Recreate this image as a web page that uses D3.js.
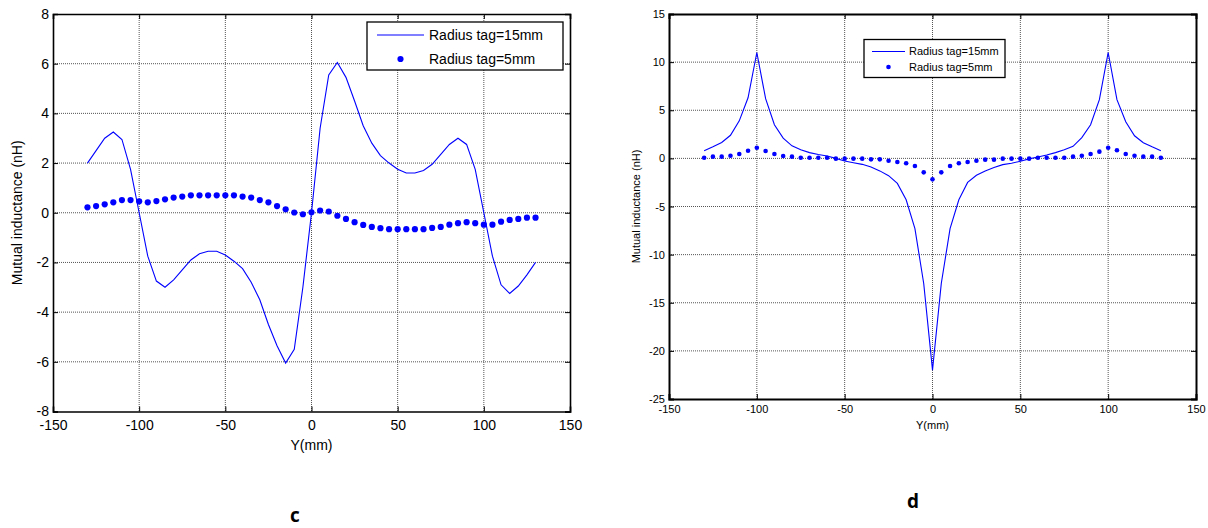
<!DOCTYPE html>
<html><head><meta charset="utf-8">
<script src="https://cdn.jsdelivr.net/npm/d3@7"></script>
<style>
html,body{margin:0;padding:0;background:#fff;}
svg text{font-family:Arial,"Liberation Sans",sans-serif;}
</style></head>
<body>
<svg id="chart" width="1208" height="528"></svg>
<script>
// ---------------- DATA ----------------
// Chart c: x positions (mm)
const xC = d3.range(-130, 131, 5);
// Radius tag = 15mm (chart c)
const c15 = [2.0,2.5,3.0,3.25,2.95,1.75,0.0,-1.75,-2.75,-3.0,-2.7,-2.3,-1.9,-1.65,-1.55,-1.55,-1.7,-1.95,-2.25,-2.8,-3.5,-4.5,-5.35,-6.05,-5.5,-3.0,
             0.0,3.4,5.55,6.05,5.45,4.5,3.5,2.8,2.3,2.0,1.75,1.6,1.6,1.7,1.95,2.35,2.75,3.0,2.75,1.75,0.0,-1.75,-2.9,-3.25,-2.95,-2.5,-2.0];
// Radius tag = 5mm (chart c)
const c5 = [0.22,0.27,0.34,0.42,0.51,0.51,0.46,0.42,0.47,0.54,0.61,0.65,0.70,0.70,0.70,0.70,0.70,0.70,0.65,0.61,0.51,0.42,0.27,0.14,0.01,-0.06,
            0.02,0.09,0.05,-0.12,-0.25,-0.38,-0.49,-0.57,-0.62,-0.66,-0.66,-0.66,-0.66,-0.66,-0.61,-0.57,-0.48,-0.42,-0.38,-0.42,-0.48,-0.48,-0.36,-0.29,-0.25,-0.20,-0.20];
// Chart d
const xD = d3.range(-130, 131, 5);
const d15 = [0.8,1.2,1.65,2.4,3.9,6.3,11.0,6.2,3.5,2.1,1.3,0.9,0.6,0.4,0.25,0.0,-0.27,-0.45,-0.62,-0.9,-1.3,-1.8,-2.6,-4.3,-7.3,-13.0,
             -22.0,-13.0,-7.3,-4.3,-2.5,-1.75,-1.3,-0.95,-0.65,-0.5,-0.3,-0.05,0.15,0.35,0.6,0.9,1.25,2.15,3.5,6.1,11.0,6.1,3.8,2.35,1.63,1.2,0.8];
const d5 = [0.07,0.18,0.18,0.28,0.46,0.8,1.11,0.77,0.46,0.25,0.18,0.07,0.07,0.07,0.07,-0.03,-0.03,-0.03,-0.03,-0.1,-0.1,-0.24,-0.37,-0.51,-0.79,-1.45,
            -2.18,-1.45,-0.79,-0.51,-0.37,-0.24,-0.13,-0.13,-0.03,-0.03,-0.03,-0.03,0.07,0.07,0.07,0.07,0.18,0.28,0.46,0.7,1.11,0.84,0.46,0.28,0.18,0.18,0.07];
const xTicks = [-150,-100,-50,0,50,100,150];
const yTicksC = [-8,-6,-4,-2,0,2,4,6,8];
const yTicksD = [-25,-20,-15,-10,-5,0,5,10,15];
const legendLabels = ["Radius tag=15mm","Radius tag=5mm"];
const xLabel = "Y(mm)";
const yLabel = "Mutual inductance (nH)";
const panelLabels = ["c","d"];

// ---------------- DRAW ----------------
const svg = d3.select("#chart");
const blue = "#0000ff";
const fmt = d => String(d);

function drawPanel(cfg){
  const g = svg.append("g");
  const x = d3.scaleLinear().domain([-150,150]).range([cfg.left, cfg.right]);
  const y = d3.scaleLinear().domain(cfg.yDomain).range([cfg.bottom, cfg.top]);
  // grid
  g.selectAll(".vg").data(xTicks.slice(1,-1)).enter().append("line")
    .attr("x1",d=>x(d)).attr("x2",d=>x(d)).attr("y1",cfg.top).attr("y2",cfg.bottom)
    .attr("stroke","#555").attr("stroke-width",1).attr("stroke-dasharray","1,1");
  g.selectAll(".hg").data(cfg.yTicks.slice(1,-1)).enter().append("line")
    .attr("y1",d=>y(d)).attr("y2",d=>y(d)).attr("x1",cfg.left).attr("x2",cfg.right)
    .attr("stroke","#555").attr("stroke-width",1).attr("stroke-dasharray","1,1");
  // axes (inward ticks)
  const tl = 5;
  const axB = d3.axisBottom(x).tickValues(xTicks).tickSize(-tl).tickPadding(tl+cfg.xPad).tickFormat(fmt);
  const axT = d3.axisTop(x).tickValues(xTicks).tickSize(-tl).tickFormat("");
  const axL = d3.axisLeft(y).tickValues(cfg.yTicks).tickSize(-tl).tickPadding(tl+cfg.yPad).tickFormat(fmt);
  const axR = d3.axisRight(y).tickValues(cfg.yTicks).tickSize(-tl).tickFormat("");
  const gb = g.append("g").attr("transform",`translate(0,${cfg.bottom})`).call(axB);
  const gt = g.append("g").attr("transform",`translate(0,${cfg.top})`).call(axT);
  const gl = g.append("g").attr("transform",`translate(${cfg.left},0)`).call(axL);
  const gr = g.append("g").attr("transform",`translate(${cfg.right},0)`).call(axR);
  [gb,gt,gl,gr].forEach(a=>{
    a.select(".domain").attr("stroke","#000").attr("stroke-width",cfg.sw);
    a.selectAll(".tick line").attr("stroke","#000").attr("stroke-width",1);
    a.selectAll("text").attr("font-size",cfg.fs).attr("fill","#000")
     .attr("font-family","Arial, 'Liberation Sans', sans-serif");
  });
  // line series
  const line = d3.line().x((d,i)=>x(cfg.xs[i])).y(d=>y(d));
  g.append("path").datum(cfg.s15).attr("d",line).attr("fill","none")
    .attr("stroke",blue).attr("stroke-width",1.1);
  g.selectAll(".dot").data(cfg.s5).enter().append("circle")
    .attr("cx",(d,i)=>x(cfg.xs5[i])).attr("cy",d=>y(d)).attr("r",cfg.r).attr("fill",blue);
  // labels
  g.append("text").attr("x",(cfg.left+cfg.right)/2).attr("y",cfg.xLabY)
    .attr("text-anchor","middle").attr("font-size",cfg.fs).text(xLabel);
  g.append("text").attr("transform",`translate(${cfg.yLabX},${(cfg.top+cfg.bottom)/2}) rotate(-90)`)
    .attr("text-anchor","middle").attr("font-size",cfg.fs).text(yLabel);
  // legend
  const L = cfg.leg;
  g.append("rect").attr("x",L.x).attr("y",L.y).attr("width",L.w).attr("height",L.h)
    .attr("fill","#fff").attr("stroke","#000").attr("stroke-width",1.3);
  g.append("line").attr("x1",L.lx1).attr("x2",L.lx2).attr("y1",L.y1).attr("y2",L.y1)
    .attr("stroke",blue).attr("stroke-width",1.1);
  g.append("circle").attr("cx",(L.lx1+L.lx2)/2).attr("cy",L.y2).attr("r",cfg.r).attr("fill",blue);
  g.append("text").attr("x",L.tx).attr("y",L.y1).attr("dy","0.35em").attr("font-size",L.fs).text(legendLabels[0]);
  g.append("text").attr("x",L.tx).attr("y",L.y2).attr("dy","0.35em").attr("font-size",L.fs).text(legendLabels[1]);
  // panel label
  svg.append("text").attr("x",cfg.pLab[0]).attr("y",cfg.pLab[1]).attr("text-anchor","middle")
    .attr("font-size",19).attr("font-weight","bold")
    .style("font-family","'Open Sans', 'Liberation Sans', sans-serif").text(cfg.pText);
}

drawPanel({left:53,right:570,top:14,bottom:411.5,yDomain:[-8,8],yTicks:yTicksC,
  xs:xC,xs5:xC,s15:c15,s5:c5,fs:14,sw:1.6,r:3.1,xPad:4,yPad:-1,
  xLabY:450,yLabX:22,
  leg:{x:367,y:22,w:196,h:48,lx1:377,lx2:424,y1:35,y2:59,tx:429,fs:14},
  pLab:[295,522],pText:panelLabels[0]});

drawPanel({left:669,right:1196,top:14,bottom:399,yDomain:[-25,15],yTicks:yTicksD,
  xs:xD,xs5:xD,s15:d15,s5:d5,fs:11,sw:2,r:2.3,xPad:1,yPad:-1,
  xLabY:429,yLabX:640,
  leg:{x:864,y:39.5,w:141,h:38,lx1:872,lx2:905,y1:51.5,y2:67,tx:909,fs:11},
  pLab:[913,508],pText:panelLabels[1]});
</script>
</body></html>
